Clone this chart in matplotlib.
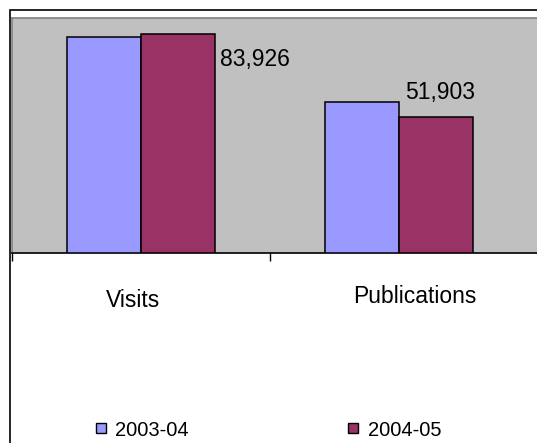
import matplotlib
matplotlib.use("Agg")
import matplotlib.pyplot as plt
from matplotlib.lines import Line2D
from matplotlib.patches import Rectangle

plt.rcParams['font.family'] = ['Liberation Sans', 'DejaVu Sans']

# data
categories = ['Visits', 'Publications']
series_names = ['2003-04', '2004-05']
values_0304 = [82800, 57800]
values_0405 = [83926, 51903]
series_colors = ['#9999FF', '#993366']

W, H = 537, 443
fig = plt.figure(figsize=(W / 100, H / 100), dpi=100)

# plot area in pixels: left 12, top 18, bottom 253, runs past right edge
left, top, bottom, right = 12, 18, 253, 545
ax = fig.add_axes([left / W, 1 - bottom / H, (right - left) / W, (bottom - top) / H])
ax.set_facecolor('#C0C0C0')

cat_px = 258.0
ax.set_xlim(-0.5, -0.5 + (right - left) / cat_px)
ax.set_ylim(0, 90000)

x = range(len(categories))
bw = 0.285
bars_a = ax.bar([i - bw / 2 for i in x], values_0304, width=bw, color=series_colors[0],
                edgecolor='black', linewidth=1.1, zorder=3)
bars_b = ax.bar([i + bw / 2 for i in x], values_0405, width=bw, color=series_colors[1],
                edgecolor='black', linewidth=1.1, zorder=3)

# value labels (placed the way the original has them)
b = bars_b[0]
ax.annotate(f"{values_0405[0]:,}", xy=(b.get_x() + b.get_width(), b.get_height()),
            xytext=(5, -26), textcoords='offset pixels', ha='left', va='center',
            fontsize=16.5)
b = bars_b[1]
ax.annotate(f"{values_0405[1]:,}", xy=(b.get_x(), b.get_height()),
            xytext=(6, 25), textcoords='offset pixels', ha='left', va='center',
            fontsize=16.5)

# category labels
xt = ax.get_xaxis_transform()
ax.text(-0.03, -0.204, categories[0], transform=xt, ha='center', va='center', fontsize=16.5)
ax.text(1.062, -0.183, categories[1], transform=xt, ha='center', va='center', fontsize=16.5)

ax.set_yticks([])
ax.set_xticks([-0.5, 0.5])
ax.set_xticklabels([])
ax.tick_params(axis='x', length=6, width=1, color='black', direction='out')
for s in ['top', 'left', 'right']:
    ax.spines[s].set_color('#808080')
    ax.spines[s].set_linewidth(1.2)
ax.spines['bottom'].set_color('black')
ax.spines['bottom'].set_linewidth(1.2)

# outer chart border (left/top visible only)
fig.patches.append(Rectangle((10 / W, -0.1), 1.2, 1.1 - 10 / H, transform=fig.transFigure,
                             fill=False, edgecolor='black', linewidth=1.2, zorder=0))

handles = [Line2D([], [], linestyle='none', marker='s', markersize=7.9,
                  markerfacecolor=c, markeredgecolor='black', markeredgewidth=1.0)
           for c in series_colors]
fig.legend(handles, series_names, loc='center left', bbox_to_anchor=(95 / W, 1 - 430 / H),
           ncol=2, frameon=False, fontsize=14.5, borderpad=0, borderaxespad=0,
           handlelength=0.55, handletextpad=0.45, columnspacing=7.9)

fig.savefig('out.png', dpi=100)
